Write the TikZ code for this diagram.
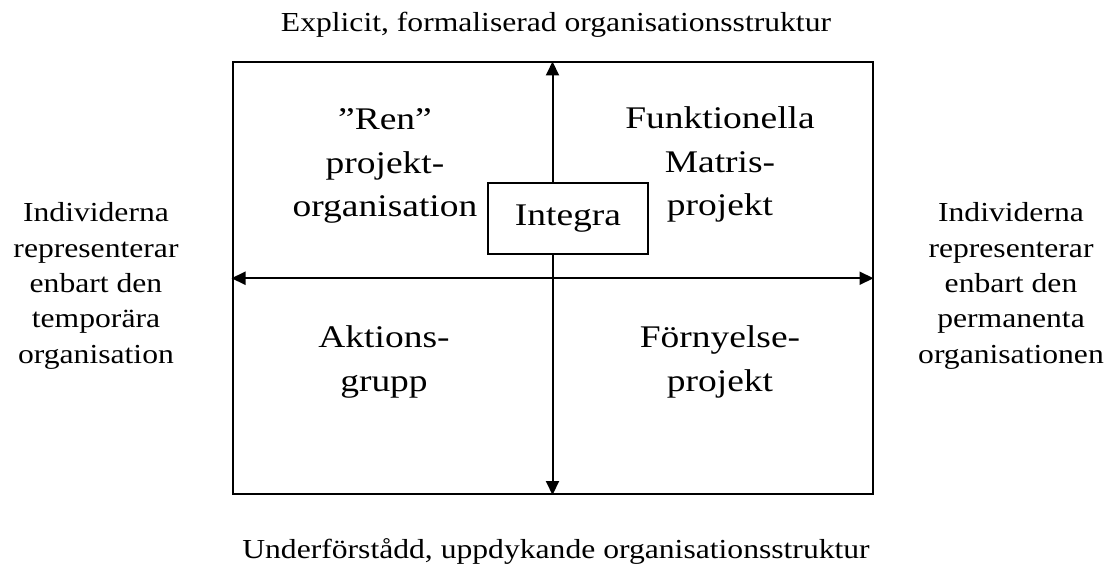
\documentclass[tikz,border=0pt]{standalone}
\usepackage{fontspec}
\setmainfont{Liberation Serif}
\newfontfamily\quadfont{Liberation Serif}[FakeStretch=1.19]
\newfontfamily\sidefont{Liberation Serif}[FakeStretch=1.15]
\usetikzlibrary{arrows.meta}
\begin{document}
\begin{tikzpicture}[x=1pt,y=-1pt,
  quad/.style={font=\quadfont\fontsize{31.5}{43.5}\selectfont, align=center, anchor=base, inner sep=0pt},
  side/.style={font=\sidefont\fontsize{27.5}{35.3}\selectfont, align=center, anchor=base, inner sep=0pt},
  tip/.tip={Triangle[length=14pt,width=13pt]},
  axis/.style={line width=2pt},
  boxed/.style={draw, line width=2pt, inner sep=0pt}]
\useasboundingbox (0,0) rectangle (1107,569);
\node[boxed, minimum width=640pt, minimum height=431.5pt] (frame) at (552.5,278.25) {};
\node[boxed, font=\quadfont\fontsize{31.5}{43.5}\selectfont, minimum width=160pt, minimum height=71pt] (integra) at (568,218.5) {Integra};
\draw[axis, -tip] (frame.center |- integra.north) -- (frame.north);
\draw[axis, -tip] (frame.center |- integra.south) -- (frame.south);
\draw[axis, tip-tip] (frame.west) -- (frame.east);
% multi-line nodes: base anchor = baseline of the last line
\node[quad] (tl) at (385,217) {”Ren”\\projekt-\\organisation};
\node[quad] (tr) at (720,216) {Funktionella\\Matris-\\projekt};
\node[quad] (bl) at (384,391) {Aktions-\\grupp};
\node[quad] (br) at (720,391) {Förnyelse-\\projekt};
\node[side] (left) at (96,363) {Individerna\\representerar\\enbart den\\temporära\\organisation};
\node[side] (right) at (1011,363) {Individerna\\representerar\\enbart den\\permanenta\\organisationen};
\node[side] (top) at (556,31.7) {Explicit, formaliserad organisationsstruktur};
\node[side] (bottom) at (556,558) {Underförstådd, uppdykande organisationsstruktur};
\end{tikzpicture}
\end{document}
